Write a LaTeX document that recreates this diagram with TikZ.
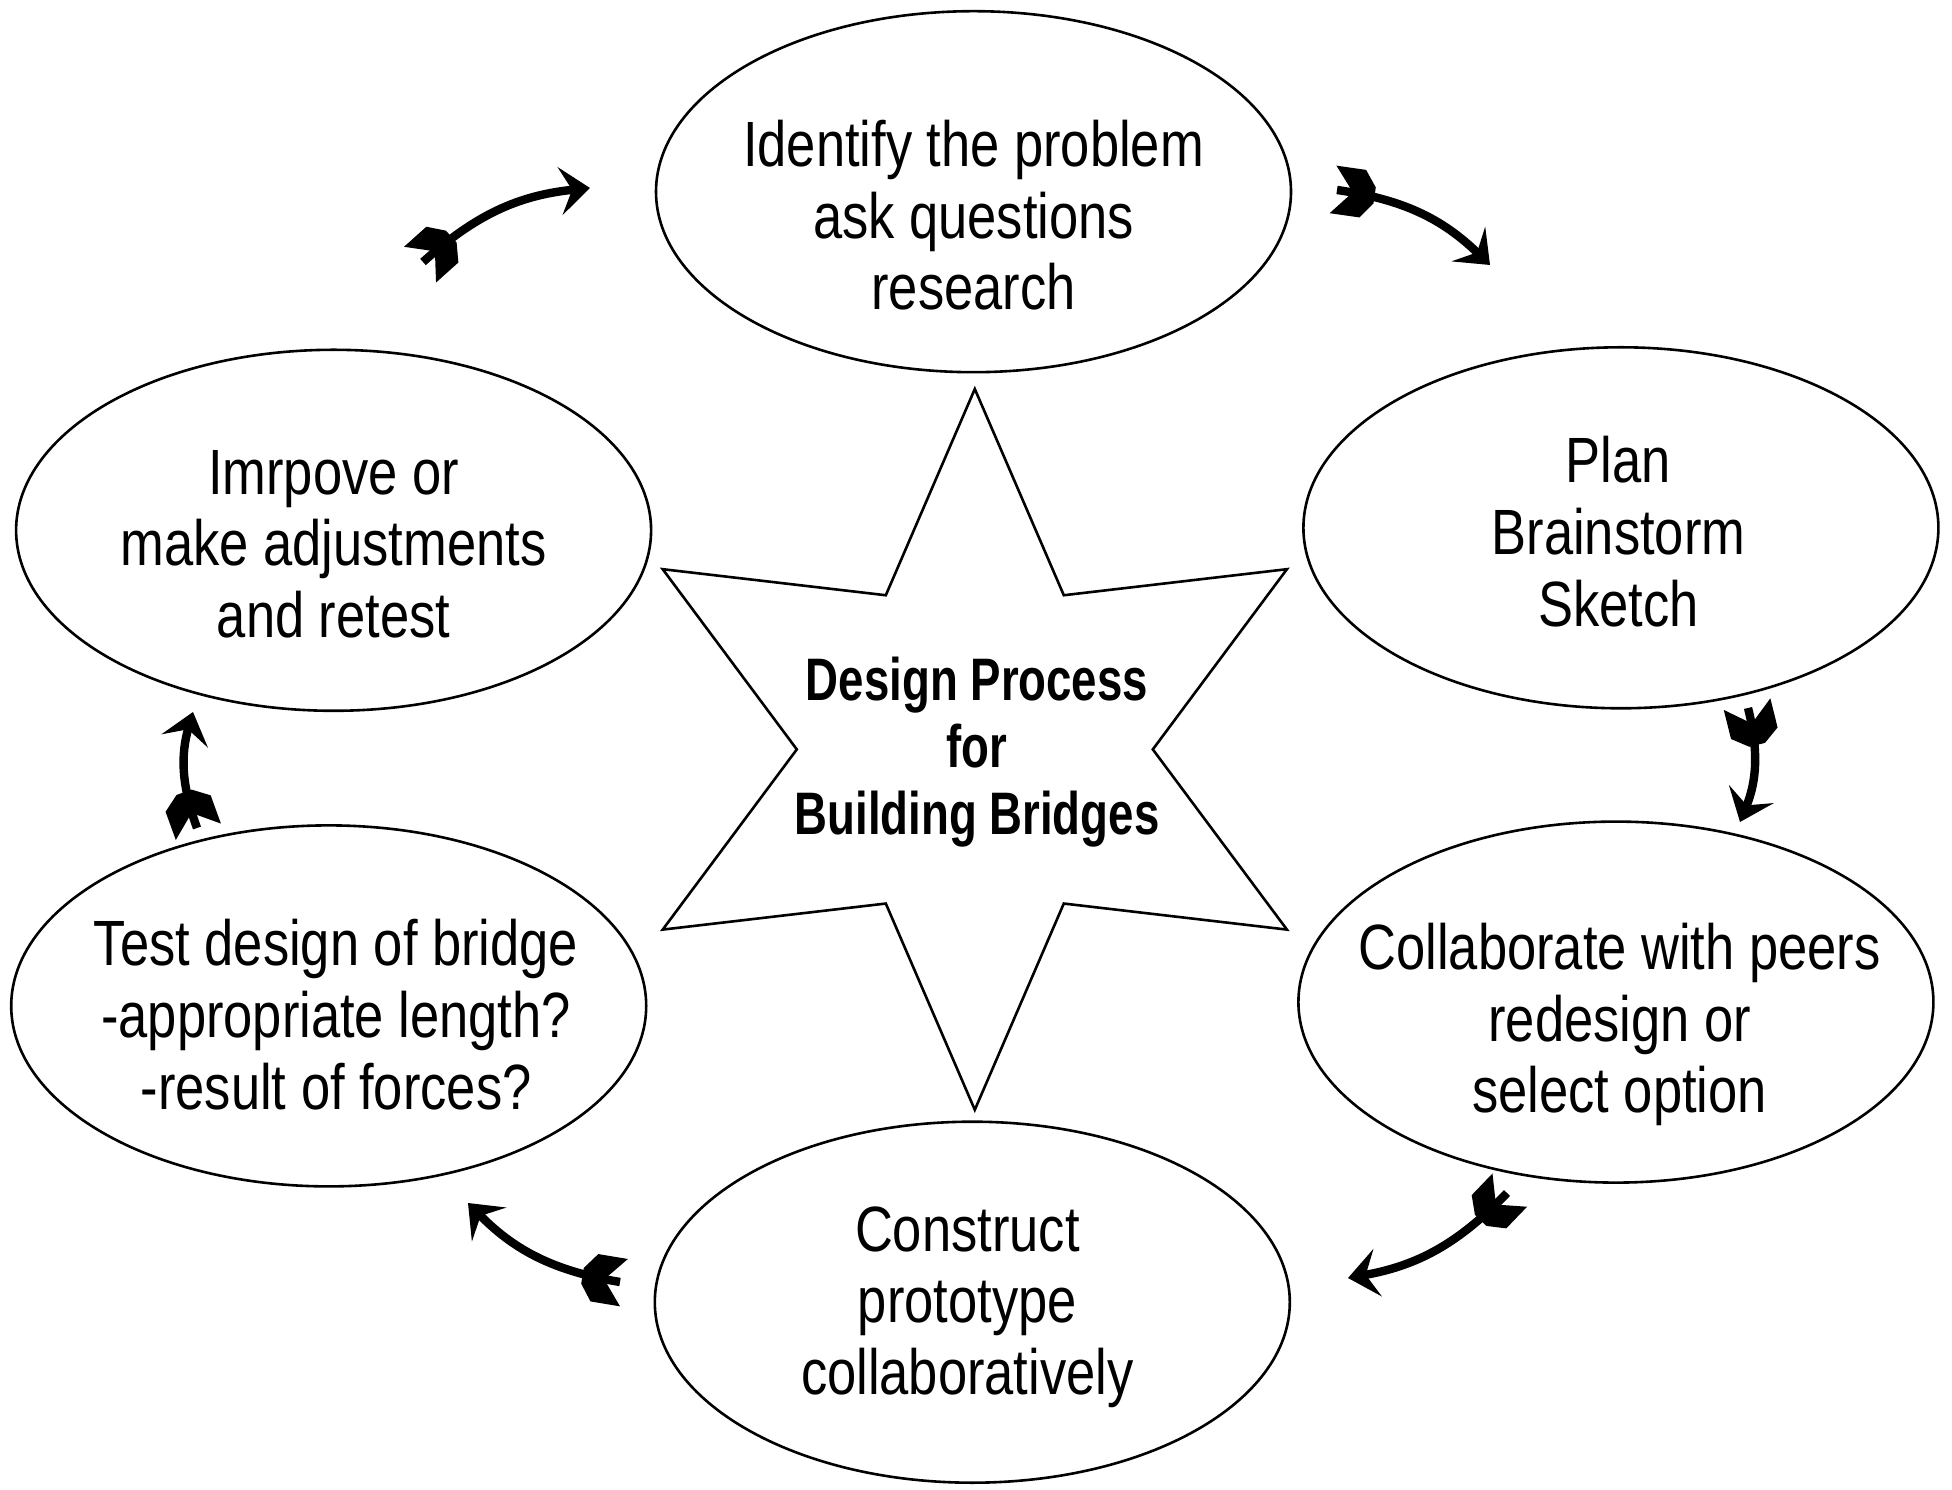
\documentclass[tikz,border=0pt]{standalone}
\usepackage{fontspec}
\setmainfont{Liberation Sans}[FakeStretch=0.82]
\newfontfamily\titlefont{Liberation Sans}[FakeStretch=0.76]
\usetikzlibrary{shapes.geometric,arrows.meta,decorations.markings}

\tikzset{
  stage/.style={ellipse, draw, line width=1.3pt, minimum width=317.5pt,
    minimum height=180.5pt, inner sep=0pt},
  stagetext/.style={align=center, inner sep=0pt,
    font=\fontsize{32}{35.8}\selectfont},
  titletext/.style={align=center, inner sep=0pt,
    font=\titlefont\bfseries\fontsize{30}{33.5}\selectfont},
  starline/.style={line width=1.3pt, line join=miter},
  % thick curved arrow with a fletched tail
  flow/.style={line width=4.2pt, bend left=18,
    -{Stealth[length=15pt,width=24pt,inset=6pt]},
    postaction={decorate},
    decoration={markings, mark=at position 0 with {
      \fill[black] (8pt,0pt) -- (-2pt,12pt) -- (13pt,12pt) -- (19pt,4pt)
        -- (19pt,-4pt) -- (13pt,-12pt) -- (-2pt,-12pt) -- cycle;}}}
}

\begin{document}
\begin{tikzpicture}[x=0.5pt, y=0.5pt]
\useasboundingbox (0,0) rectangle (1952,1489);

% the six stages of the cycle
\node[stage] (e1) at (973.5,1297.3) {};
\node[stage] (e2) at (1620.9,961.2) {};
\node[stage] (e3) at (1615.9,486.9) {};
\node[stage] (e4) at (972.3,186.8) {};
\node[stage] (e5) at (328.7,483.1) {};
\node[stage] (e6) at (333.6,958.7) {};

\node[stagetext] (t1) at (973.5,1273.6) {Identify the problem\\ask questions\\research};
\node[stagetext] (t2) at (1618.4,957.4) {Plan\\Brainstorm\\Sketch};
\node[stagetext] (t3) at (1619.6,464.4) {Collaborate with peers\\redesign or\\select option};
\node[stagetext] (t4) at (967.3,181.9) {Construct\\prototype\\collaboratively};
\node[stagetext] (t5) at (336.1,474.4) {Test design of bridge\\-appropriate length?\\-result of forces?};
\node[stagetext] (t6) at (333.6,945.0) {Imrpove or\\make adjustments\\and retest};

% central six-pointed star
\begin{scope}[shift={(974.8,739.6)}]
  \draw[starline] (90:360.4) -- (120:178) -- (150:360.4) -- (180:178)
    -- (210:360.4) -- (240:178) -- (270:360.4) -- (300:178)
    -- (330:360.4) -- (0:178) -- (30:360.4) -- (60:178) -- cycle;
\end{scope}
\node[titletext] (title) at (977,736.5) {Design Process\\for\\Building Bridges};

% arrow ends
\coordinate (a1) at (423,1227);  \coordinate (b1) at (590,1301);
\coordinate (a2) at (1337,1299); \coordinate (b2) at (1490,1224);
\coordinate (a3) at (1748,781);  \coordinate (b3) at (1740,667);
\coordinate (a4) at (1507,296);  \coordinate (b4) at (1348,211);
\coordinate (a5) at (620,207);   \coordinate (b5) at (468,286);
\coordinate (a6) at (197,661);   \coordinate (b6) at (193,777);

\draw[flow] (a1) to (b1);
\draw[flow] (a2) to (b2);
\draw[flow] (a3) to (b3);
\draw[flow] (a4) to (b4);
\draw[flow] (a5) to (b5);
\draw[flow] (a6) to (b6);
\end{tikzpicture}
\end{document}
